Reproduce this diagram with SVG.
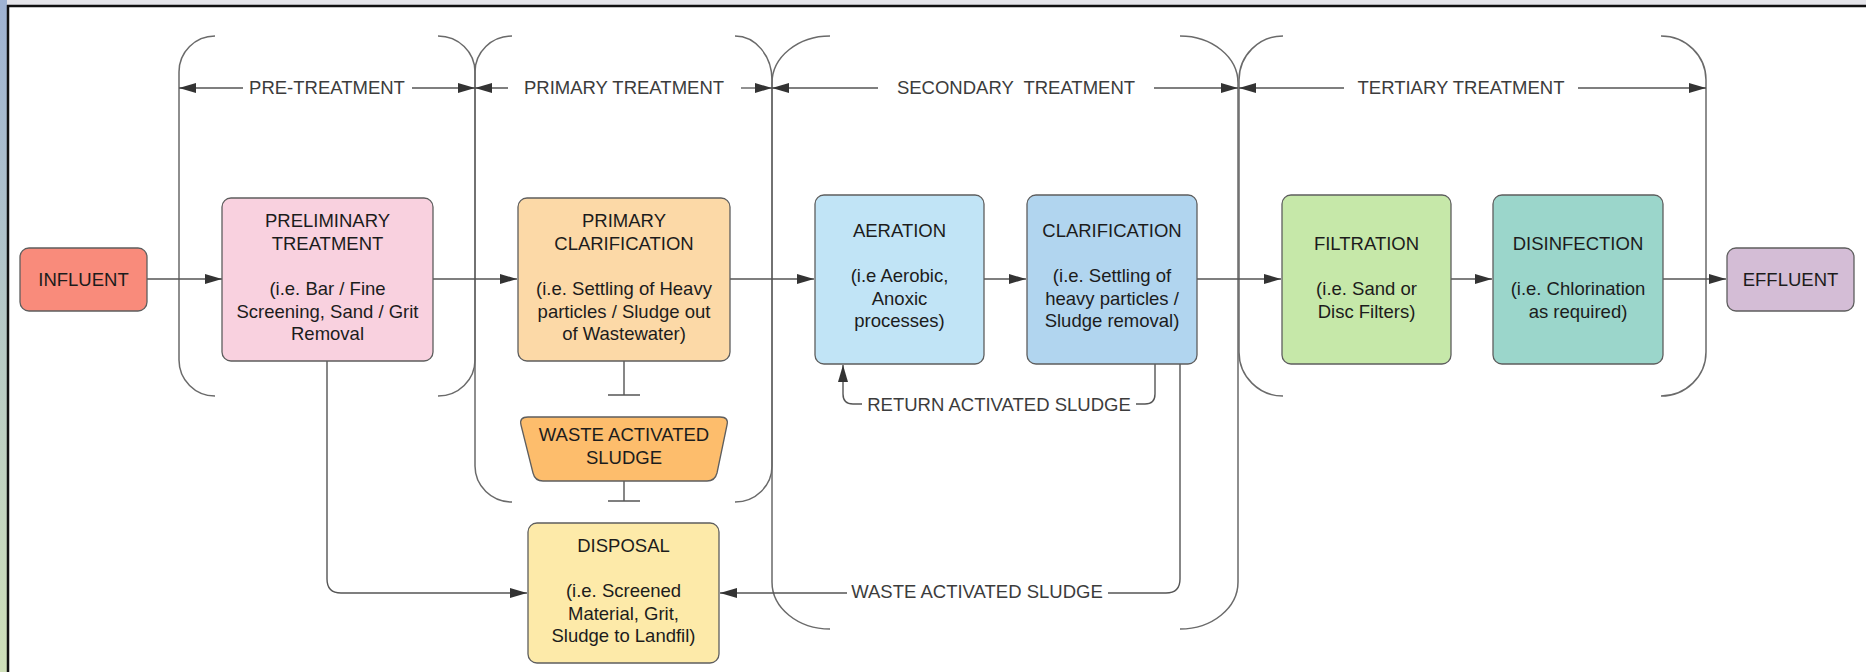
<svg xmlns="http://www.w3.org/2000/svg" width="1866" height="672" viewBox="0 0 1866 672">
<style>
.node rect,.node path{stroke:#5e5e5e;stroke-width:1.3}
.nt{font-family:"Liberation Sans",Arial,sans-serif;font-size:18.5px;fill:#1c1c1c;text-anchor:middle}
.bl{font-family:"Liberation Sans",Arial,sans-serif;font-size:18.5px;fill:#3c3c3c;text-anchor:middle}
.br{fill:none;stroke:#6a6a6a;stroke-width:1.5}
.dim{fill:none;stroke:#555;stroke-width:1.3}
.c{fill:none;stroke:#555;stroke-width:1.4}
</style>
<defs>
<marker id="arr" viewBox="0 0 17 10" refX="17" refY="5" markerWidth="17" markerHeight="10" markerUnits="userSpaceOnUse" orient="auto"><path d="M0,0 L17,5 L0,10 z" fill="#333"/></marker>
<linearGradient id="side" x1="0" y1="0" x2="0" y2="1"><stop offset="0" stop-color="#9fb3d3"/><stop offset="1" stop-color="#cfe0b9"/></linearGradient>
</defs>
<rect x="0" y="0" width="1866" height="672" fill="#ffffff"/>
<g id="frame">
<rect x="0" y="0" width="1866" height="5" fill="#e5e5ea"/>
<rect x="0" y="0" width="7" height="672" fill="url(#side)"/>
<line x1="7" y1="6" x2="1866" y2="6" stroke="#111" stroke-width="2.5"/>
<line x1="8" y1="5" x2="8" y2="672" stroke="#111" stroke-width="2.5"/>
</g>
<g id="brackets">
<path class="br" d="M215,36 A36,36 0 0 0 179,72 L179,360 A36,36 0 0 0 215,396"/>
<path class="br" d="M438,36 A37,36 0 0 1 475,72 L475,360 A37,36 0 0 1 438,396"/>
<path class="br" d="M512,36 A37,36 0 0 0 475,72 L475,466 A37,36 0 0 0 512,502"/>
<path class="br" d="M735,36 A37,44 0 0 1 772,80 L772,466 A37,36 0 0 1 735,502"/>
<path class="br" d="M830,36 A58,47 0 0 0 772,83 L772,582 A58,47 0 0 0 830,629"/>
<path class="br" d="M1180,36 A58,47 0 0 1 1238,83 L1238,582 A58,47 0 0 1 1180,629"/>
<path class="br" d="M1283,36 A44,44 0 0 0 1239,80 L1239,352 A44,44 0 0 0 1283,396"/>
<path class="br" d="M1661,36 A45,44 0 0 1 1706,80 L1706,352 A45,44 0 0 1 1661,396"/>
</g>
<g id="stage-labels">
<path class="dim" d="M243,88 H179" marker-end="url(#arr)"/>
<path class="dim" d="M412,88 H475" marker-end="url(#arr)"/>
<text class="bl" x="327" y="94">PRE-TREATMENT</text>
<path class="dim" d="M508,88 H475" marker-end="url(#arr)"/>
<path class="dim" d="M741,88 H772" marker-end="url(#arr)"/>
<text class="bl" x="624" y="94">PRIMARY TREATMENT</text>
<path class="dim" d="M878,88 H772" marker-end="url(#arr)"/>
<path class="dim" d="M1154,88 H1238" marker-end="url(#arr)"/>
<text class="bl" x="1016" y="94" xml:space="preserve">SECONDARY  TREATMENT</text>
<path class="dim" d="M1344,88 H1239" marker-end="url(#arr)"/>
<path class="dim" d="M1578,88 H1706" marker-end="url(#arr)"/>
<text class="bl" x="1461" y="94">TERTIARY TREATMENT</text>
</g>
<g id="connectors">
<path class="c" d="M147,279 H222" marker-end="url(#arr)"/>
<path class="c" d="M433,279 H517" marker-end="url(#arr)"/>
<path class="c" d="M730,279 H814" marker-end="url(#arr)"/>
<path class="c" d="M984,279 H1026" marker-end="url(#arr)"/>
<path class="c" d="M1197,279 H1281" marker-end="url(#arr)"/>
<path class="c" d="M1451,279 H1492" marker-end="url(#arr)"/>
<path class="c" d="M1663,279 H1726" marker-end="url(#arr)"/>
<path class="c" d="M624,361 V395 M608,395 H640"/>
<path class="c" d="M624,481 V501 M608,501 H640"/>
<path class="c" d="M327,361 V579 Q327,593 341,593 H527" marker-end="url(#arr)"/>
<path class="c" d="M1180,364 V579 Q1180,593 1166,593 H1108"/>
<path class="c" d="M847,593 H720" marker-end="url(#arr)"/>
<text class="bl" x="977" y="598">WASTE ACTIVATED SLUDGE</text>
<path class="c" d="M1155,364 V394 Q1155,404 1145,404 H1136"/>
<path class="c" d="M862,404 H853 Q843,404 843,394 V365" marker-end="url(#arr)"/>
<text class="bl" x="999" y="411">RETURN ACTIVATED SLUDGE</text>
</g>
<g id="influent" class="node">
<rect x="20" y="248" width="127" height="63" rx="9" fill="#f98b7b"/>
<text class="nt" x="83.5" y="286">INFLUENT</text>
</g>
<g id="preliminary" class="node">
<rect x="222" y="198" width="211" height="163" rx="9" fill="#f9d1df"/>
<text class="nt" x="327.5" y="227">PRELIMINARY</text>
<text class="nt" x="327.5" y="249.5">TREATMENT</text>
<text class="nt" x="327.5" y="295">(i.e. Bar / Fine</text>
<text class="nt" x="327.5" y="317.5">Screening, Sand / Grit</text>
<text class="nt" x="327.5" y="340">Removal</text>
</g>
<g id="primary" class="node">
<rect x="518" y="198" width="212" height="163" rx="9" fill="#fcd9a7"/>
<text class="nt" x="624" y="227">PRIMARY</text>
<text class="nt" x="624" y="249.5">CLARIFICATION</text>
<text class="nt" x="624" y="295">(i.e. Settling of Heavy</text>
<text class="nt" x="624" y="317.5">particles / Sludge out</text>
<text class="nt" x="624" y="340">of Wastewater)</text>
</g>
<g id="was" class="node">
<path d="M528,417 H720 Q729,417 727,425 L717,473 Q715,481 707,481 H543 Q535,481 533,473 L521,425 Q519,417 528,417 Z" fill="#fdbd6c"/>
<text class="nt" x="624" y="441">WASTE ACTIVATED</text>
<text class="nt" x="624" y="463.5">SLUDGE</text>
</g>
<g id="disposal" class="node">
<rect x="528" y="523" width="191" height="140" rx="9" fill="#fdeaa9"/>
<text class="nt" x="623.5" y="552">DISPOSAL</text>
<text class="nt" x="623.5" y="597">(i.e. Screened</text>
<text class="nt" x="623.5" y="619.5">Material, Grit,</text>
<text class="nt" x="623.5" y="642">Sludge to Landfil)</text>
</g>
<g id="aeration" class="node">
<rect x="815" y="195" width="169" height="169" rx="9" fill="#c1e4f6"/>
<text class="nt" x="899.5" y="237">AERATION</text>
<text class="nt" x="899.5" y="282">(i.e Aerobic,</text>
<text class="nt" x="899.5" y="304.5">Anoxic</text>
<text class="nt" x="899.5" y="327">processes)</text>
</g>
<g id="clarification" class="node">
<rect x="1027" y="195" width="170" height="169" rx="9" fill="#b1d5ef"/>
<text class="nt" x="1112" y="237">CLARIFICATION</text>
<text class="nt" x="1112" y="282">(i.e. Settling of</text>
<text class="nt" x="1112" y="304.5">heavy particles /</text>
<text class="nt" x="1112" y="327">Sludge removal)</text>
</g>
<g id="filtration" class="node">
<rect x="1282" y="195" width="169" height="169" rx="9" fill="#c6e8a9"/>
<text class="nt" x="1366.5" y="250">FILTRATION</text>
<text class="nt" x="1366.5" y="295">(i.e. Sand or</text>
<text class="nt" x="1366.5" y="317.5">Disc Filters)</text>
</g>
<g id="disinfection" class="node">
<rect x="1493" y="195" width="170" height="169" rx="9" fill="#9bd6cb"/>
<text class="nt" x="1578" y="250">DISINFECTION</text>
<text class="nt" x="1578" y="295">(i.e. Chlorination</text>
<text class="nt" x="1578" y="317.5">as required)</text>
</g>
<g id="effluent" class="node">
<rect x="1727" y="248" width="127" height="63" rx="9" fill="#d4bdd6"/>
<text class="nt" x="1790.5" y="286">EFFLUENT</text>
</g>
</svg>
